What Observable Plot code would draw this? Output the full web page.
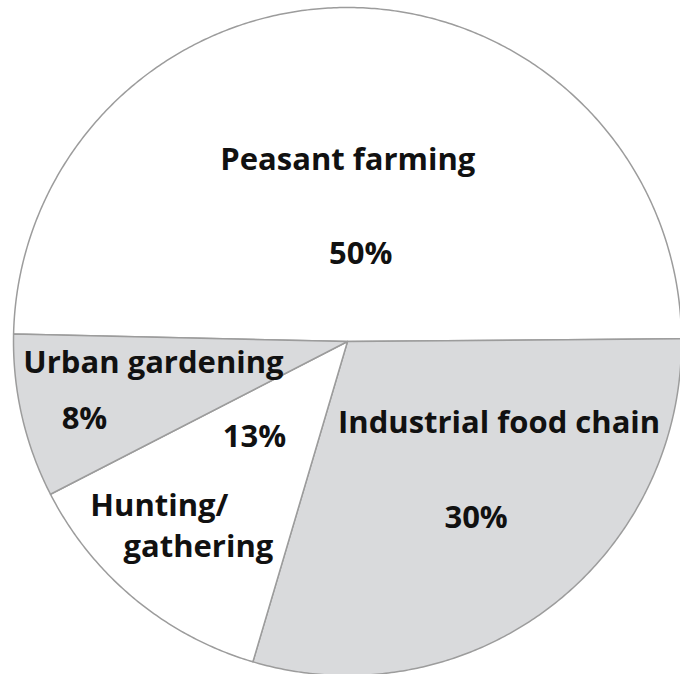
<!DOCTYPE html>
<html>
<head>
<meta charset="utf-8">
<script src="https://cdn.jsdelivr.net/npm/d3@7"></script>
<script src="https://cdn.jsdelivr.net/npm/@observablehq/plot@0.6"></script>
<style>
  html, body { margin: 0; padding: 0; background: #fff; }
  #chart { width: 680px; height: 674px; overflow: hidden; }
</style>
</head>
<body>
<div id="chart"></div>
<script>
// ---- data ----
const categories = ["Peasant farming", "Industrial food chain", "Hunting/gathering", "Urban gardening"];
const values = [50, 30, 13, 8];
const labelLines = [["Peasant farming"], ["Industrial food chain"], ["Hunting/", "gathering"], ["Urban gardening"]];

// ---- layout / style ----
const W = 680, H = 674;
const CX = 347, CY = 341, R = 334;          // pie centre and radius in pixels
const startDeg = -88.7;                      // rotation of first slice
const fills = ["#ffffff", "#d9dadc", "#ffffff", "#d9dadc"];
const strokeColor = "#9c9c9c";
const FONT = 31;
// label offsets (px) from each slice centroid (at 0.55 R)
const nameOffsets = [[[-1, 2]], [[41, -65]], [[-71, 23], [-32, 64]], [[-15, -20]]];
const pctOffsets = [[12, 96], [18, 30], [24, -46], [-84, 36]];

// ---- geometry from the data ----
const pie = d3.pie().sort(null).value(d => d.value)
  .startAngle(startDeg * Math.PI / 180).endAngle(startDeg * Math.PI / 180 + 2 * Math.PI);
const rows = categories.map((c, i) => ({name: c, value: values[i], i}));
const arcs = pie(rows);

const polar = (a, r) => ({x: r * Math.sin(a), y: r * Math.cos(a)}); // y up in data units
const polys = [];
arcs.forEach(a => {
  const n = Math.max(2, Math.ceil((a.endAngle - a.startAngle) / (Math.PI / 360)));
  polys.push({name: a.data.name, x: 0, y: 0});
  d3.range(n + 1).forEach(k => {
    const t = a.startAngle + (a.endAngle - a.startAngle) * k / n;
    const p = polar(t, 1);
    polys.push({name: a.data.name, x: p.x, y: p.y});
  });
  polys.push({name: a.data.name, x: 0, y: 0});
});

const texts = [];
arcs.forEach((a, i) => {
  const c = polar((a.startAngle + a.endAngle) / 2, 0.55);
  labelLines[i].forEach((line, j) => {
    const o = nameOffsets[i][j];
    texts.push({text: line, x: c.x + o[0] / R, y: c.y - o[1] / R});
  });
  const o = pctOffsets[i];
  texts.push({text: `${a.data.value}%`, x: c.x + o[0] / R, y: c.y - o[1] / R});
});

const chart = Plot.plot({
  width: W, height: H,
  margin: 0,
  x: {domain: [-CX / R, (W - CX) / R], axis: null},
  y: {domain: [-(H - CY) / R, CY / R], axis: null},
  color: {type: "ordinal", domain: categories, range: fills},
  style: {background: "#fff", fontFamily: "'Open Sans', sans-serif"},
  marks: [
    Plot.line(polys, {x: "x", y: "y", z: "name", fill: "name", stroke: strokeColor, strokeWidth: 1.5, strokeLinejoin: "round"}),
    Plot.text(texts, {x: "x", y: "y", text: "text", fontSize: FONT, fontWeight: 700, fill: "#111"})
  ]
});
document.getElementById("chart").appendChild(chart);
</script>
</body>
</html>
